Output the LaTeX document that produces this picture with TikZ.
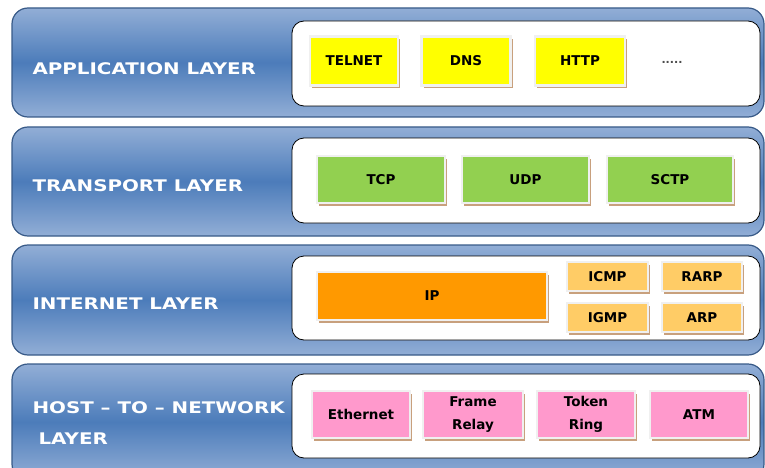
\documentclass[tikz,border=0pt]{standalone}
\usepackage{fontspec}
\setmainfont{DejaVu Sans}
\newfontfamily\widebold[FakeStretch=1.24,Ligatures=TeX]{DejaVu Sans Bold}
\usepackage{tikz}
\usetikzlibrary{shadows}

\definecolor{bandtop}{RGB}{146,174,214}
\definecolor{bandmid}{RGB}{76,124,186}
\definecolor{bandrim}{RGB}{56,90,136}
\definecolor{appcol}{RGB}{255,255,0}
\definecolor{transcol}{RGB}{146,208,80}
\definecolor{ipcol}{RGB}{255,153,0}
\definecolor{auxcol}{RGB}{255,204,102}
\definecolor{linkcol}{RGB}{255,153,204}
\definecolor{shadowtan}{RGB}{200,160,125}

\begin{document}
\begin{tikzpicture}[x=1pt,y=-1pt,
    band/.style={rounded corners=16pt, draw=bandrim, line width=1.2pt,
        top color=bandtop, bottom color=bandtop, middle color=bandmid},
    tray/.style={rounded corners=12pt, draw=black, line width=0.8pt, fill=white},
    layername/.style={anchor=west, text=white, align=left,
        font=\widebold\fontsize{16}{31}\selectfont},
    proto/.style={fill=#1, draw=gray!12, line width=2.5pt, inner sep=0pt,
        align=center, font=\bfseries\fontsize{13.5}{23}\selectfont,
        drop shadow={shadow xshift=2pt, shadow yshift=-3pt, fill=shadowtan, opacity=1}}
]
    \useasboundingbox (0,0) rectangle (765,468);
    \clip (0,0) rectangle (765,468);

    % layer bands
    \path[band] (12,8) rectangle (764,117);
    \path[band] (12,127) rectangle (764,236);
    \path[band] (12,245) rectangle (764,355);
    \path[band] (12,364) rectangle (764,480);

    \path[tray] (292,21) rectangle (760,106);
    \path[tray] (292,138) rectangle (760,223);
    \path[tray] (292,256) rectangle (760,340);
    \path[tray] (292,374) rectangle (760,458);

    % layer names
    \node[layername] (app) at (29,68.5) {APPLICATION LAYER};
    \node[layername] (trans) at (29,185.5) {TRANSPORT LAYER};
    \node[layername] (inet) at (29,303.5) {INTERNET LAYER};
    \node[layername] (host) at (29,423) {HOST -- TO -- NETWORK\\\hspace{6pt}LAYER};

    % application
    \node[proto=appcol, minimum width=88pt, minimum height=49pt] (telnet) at (354,61) {TELNET};
    \node[proto=appcol, minimum width=89pt, minimum height=49pt] (dns) at (466,61) {DNS};
    \node[proto=appcol, minimum width=90pt, minimum height=49pt] (http) at (580,61) {HTTP};
    \node[text=black!70, font=\bfseries\fontsize{11}{13}\selectfont] (more) at (672,62) {.....};

    % transport
    \node[proto=transcol, minimum width=128pt, minimum height=47pt] (tcp) at (381,179.5) {TCP};
    \node[proto=transcol, minimum width=127pt, minimum height=47pt] (udp) at (525.5,179.5) {UDP};
    \node[proto=transcol, minimum width=126pt, minimum height=47pt] (sctp) at (670,179.5) {SCTP};

    % internet
    \node[proto=ipcol, minimum width=230pt, minimum height=48pt] (ip) at (432,296) {IP};
    \node[proto=auxcol, minimum width=81pt, minimum height=29pt] (icmp) at (607.5,276.5) {ICMP};
    \node[proto=auxcol, minimum width=80pt, minimum height=29pt] (rarp) at (702,276.5) {RARP};
    \node[proto=auxcol, minimum width=81pt, minimum height=29pt] (igmp) at (607.5,317.5) {IGMP};
    \node[proto=auxcol, minimum width=80pt, minimum height=29pt] (arp) at (702,317.5) {ARP};

    % host to network
    \node[proto=linkcol, minimum width=98pt, minimum height=47pt] (ether) at (361,414.5) {Ethernet};
    \node[proto=linkcol, minimum width=100pt, minimum height=47pt] (frame) at (473,414.5) {Frame\\Relay};
    \node[proto=linkcol, minimum width=98pt, minimum height=47pt] (token) at (586,414.5) {Token\\Ring};
    \node[proto=linkcol, minimum width=98pt, minimum height=47pt] (atm) at (699,414.5) {ATM};
\end{tikzpicture}
\end{document}
